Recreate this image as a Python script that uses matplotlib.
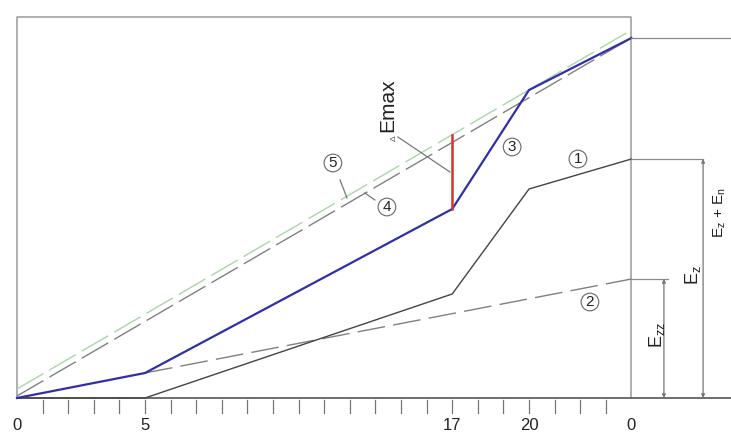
import matplotlib
matplotlib.use('Agg')
import matplotlib.pyplot as plt

plt.rcParams['font.family'] = ['Liberation Sans', 'DejaVu Sans']
plt.rcParams['mathtext.default'] = 'regular'

# Данні кривих (x - позиція, y - енергія в умовних одиницях)
x_tick_pos = [0, 5, 17, 20, 24]
x_tick_labels = ['0', '5', '17', '20', '0']

curve1_x = [0, 5, 17, 20, 24]
curve1_y = [0, 0, 104, 209, 239]

curve2_x = [5, 24]
curve2_y = [25, 119]

curve3_x = [0, 5, 17, 20, 24]
curve3_y = [0, 25, 189, 308, 360]

curve4_x = [0, 24]
curve4_y = [2, 360]

curve5_x = [0, 24]
curve5_y = [9, 368]

emax_x = 17
emax_y = [189, 263]

box_w, box_h = 24, 381

fig = plt.figure(figsize=(7.31, 4.34), dpi=100)
ax = fig.add_axes([0, 0, 1, 1])
ax.set_xlim(-0.664, 27.89)
ax.set_ylim(-36, 398)
ax.axis('off')

# Рамка
ax.plot([0, 0, box_w, box_w], [0, box_h, box_h, 0], color='#9a9a9a', lw=1.1)
ax.plot([0, 28], [0, 0], color='#555555', lw=1.2)

# Поділки осі
for t in range(1, 24):
    ax.plot([t, t], [-2, -15], color='#777777', lw=0.9)
for xp, lab in zip(x_tick_pos, x_tick_labels):
    ax.text(xp, -27, lab, ha='center', va='center', fontsize=12, color='#222222')

# Криві
ax.plot(curve5_x, curve5_y, color='#a9d6a9', lw=1.0, dashes=(22, 5))
ax.plot(curve4_x, curve4_y, color='#808080', lw=1.0, dashes=(22, 5))
ax.plot(curve2_x, curve2_y, color='#808080', lw=1.0, dashes=(20, 6))
ax.plot(curve1_x, curve1_y, color='#444444', lw=1.0)
ax.plot(curve3_x, curve3_y, color='#2f2fa8', lw=1.6)
ax.plot([emax_x, emax_x], emax_y, color='#d83030', lw=1.8)

# Виносні лінії праворуч
ext = [(curve3_y[-1], 28), (curve1_y[-1], 26.8), (curve2_y[-1], 25.43)]
for yv, xe in ext:
    ax.plot([box_w, xe], [yv, yv], color='#8a8a8a', lw=0.9)

for xd, yt in [(25.27, curve2_y[-1]), (26.8, curve1_y[-1])]:
    ax.annotate('', xy=(xd, 0), xytext=(xd, yt),
                arrowprops=dict(arrowstyle='<|-|>', color='#777777', lw=0.9,
                                mutation_scale=5, shrinkA=0, shrinkB=0))

ax.text(25.0, 63, 'E$_{zz}$', rotation=90, ha='center', va='center', fontsize=13, color='#222222')
ax.text(26.4, 123, 'E$_{z}$', rotation=90, ha='center', va='center', fontsize=13, color='#222222')
ax.text(27.45, 185, 'E$_{z}$ + E$_{n}$', rotation=90, ha='center', va='center', fontsize=11, color='#222222')

# Позначка ΔEmax
ax.text(14.5, 266, 'Emax', rotation=90, ha='center', va='bottom', fontsize=15, color='#222222')
ax.text(14.75, 260, 'Δ', rotation=90, ha='center', va='center', fontsize=6, color='#555555')
ax.plot([14.88, 16.91], [261, 226], color='#777777', lw=0.9)

# Номери кривих
labels = [('5', 12.34, 235), ('4', 14.45, 191), ('3', 19.34, 251), ('1', 21.91, 239), ('2', 22.38, 96)]
for txt, lx, ly in labels:
    ax.text(lx, ly, txt, ha='center', va='center', fontsize=11, color='#222222',
            bbox=dict(boxstyle='circle,pad=0.12', fc='white', ec='#666666', lw=0.8))
ax.plot([12.62, 12.89], [218, 200], color='#777777', lw=0.9)
ax.plot([13.98, 13.59], [198, 205], color='#777777', lw=0.9)

plt.savefig('out.png', dpi=100)
